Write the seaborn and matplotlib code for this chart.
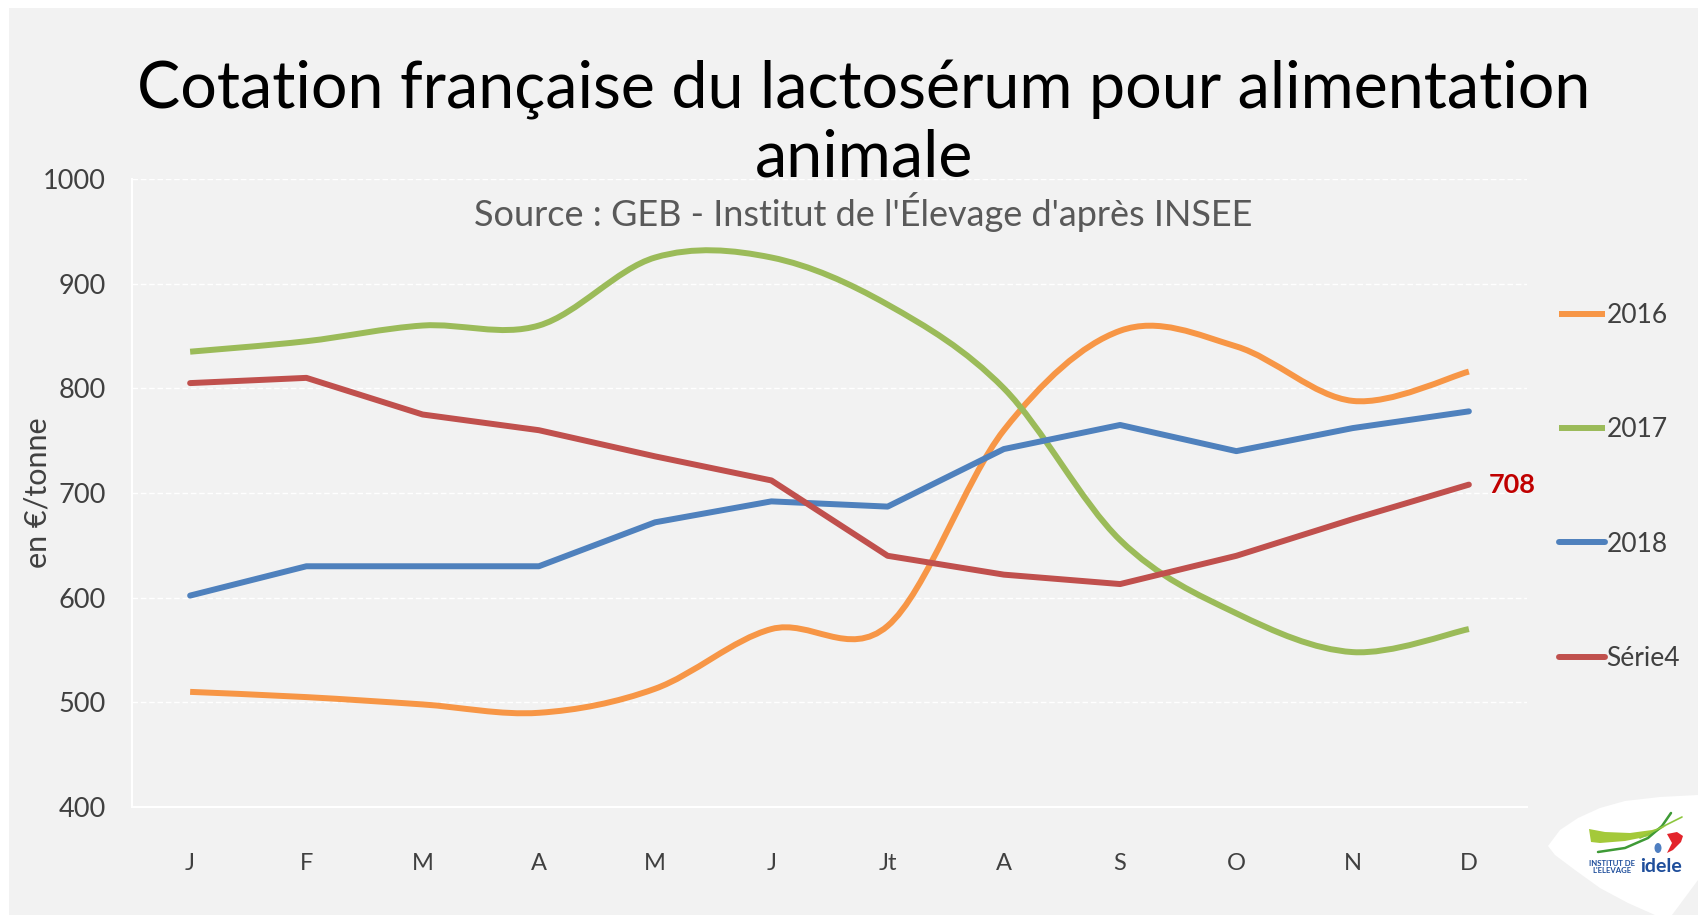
import numpy as np
import pandas as pd
import matplotlib
matplotlib.use("Agg")
import matplotlib.pyplot as plt
import seaborn as sns
from matplotlib.path import Path
from matplotlib.patches import PathPatch, Rectangle, Polygon, Ellipse
from matplotlib.lines import Line2D

# ---------------- data ----------------
months = ["J", "F", "M", "A", "M", "J", "Jt", "A", "S", "O", "N", "D"]
s2016 = [510, 505, 498, 490, 513, 570, 573, 760, 855, 840, 788, 816]
s2017 = [835, 845, 860, 860, 925, 925, 880, 800, 655, 585, 548, 570]
s2018 = [602, 630, 630, 630, 672, 692, 687, 742, 765, 740, 762, 778]
serie4 = [805, 810, 775, 760, 735, 712, 640, 622, 613, 640, 675, 708]
series_names = ["2016", "2017", "2018", "Série4"]
colors = ["#F79646", "#9BBB59", "#4F81BD", "#C0504D"]
yticks = [400, 500, 600, 700, 800, 900, 1000]
title = "Cotation française du lactosérum pour alimentation\nanimale"
subtitle = "Source : GEB - Institut de l'Élevage d'après INSEE"
ylabel = "en €/tonne"
last_label = "708"

# ---------------- style ----------------
sns.set_theme(style="white")
FONT = ["Lato", "DejaVu Sans"]
plt.rcParams["font.family"] = FONT
BG = "#F2F2F2"
TXT = "#404040"

W, H = 1698, 915


def fp(px, py):
    """figure pixel (from top-left) -> figure fraction"""
    return (px / W, 1 - py / H)


fig = plt.figure(figsize=(W / 100, H / 100), dpi=100, facecolor="white")
# background panel (white margin at top and left)
fig.patches.append(Rectangle((9 / W, 0), 1, 1 - 8 / H, transform=fig.transFigure,
                             facecolor=BG, edgecolor="none", zorder=-10))

ax = fig.add_axes([132 / W, 1 - 807 / H, 1395 / W, 628 / H])
ax.set_facecolor(BG)
ax.patch.set_alpha(0)

x = np.arange(len(months))
LW = 4.3


def smooth_path(xs, ys):
    pts = np.column_stack([xs, ys]).astype(float)
    n = len(pts)
    verts = [tuple(pts[0])]
    codes = [Path.MOVETO]
    for i in range(n - 1):
        p_prev = pts[max(i - 1, 0)]
        p0 = pts[i]
        p1 = pts[i + 1]
        p_next = pts[min(i + 2, n - 1)]
        c1 = p0 + (p1 - p_prev) / 6.0
        c2 = p1 - (p_next - p0) / 6.0
        verts += [tuple(c1), tuple(c2), tuple(p1)]
        codes += [Path.CURVE4] * 3
    return Path(verts, codes)


# smoothed series (2016, 2017)
for ys, c, z in [(s2016, colors[0], 3), (s2017, colors[1], 4)]:
    ax.add_patch(PathPatch(smooth_path(x, ys), facecolor="none", edgecolor=c,
                           lw=LW, capstyle="butt", joinstyle="round", zorder=z))

# straight series via seaborn
df = pd.DataFrame({"x": np.concatenate([x, x]),
                   "y": s2018 + serie4,
                   "s": ["2018"] * len(x) + ["Série4"] * len(x)})
sns.lineplot(data=df, x="x", y="y", hue="s", palette={"2018": colors[2], "Série4": colors[3]},
             lw=LW, ax=ax, legend=False, zorder=5, sort=False)
for ln in ax.lines:
    ln.set_solid_capstyle("round")
    ln.set_solid_joinstyle("round")
ax.lines[-1].set_zorder(6)

# axes formatting
ax.set_xlim(-0.5, len(months) - 0.5)
ax.set_ylim(400, 1000)
ax.set_yticks(yticks)
ax.set_yticklabels([str(v) for v in yticks])
ax.set_xticks(x)
ax.set_xticklabels(months)
ax.set_xticks(np.arange(-0.5, len(months), 1), minor=True)
ax.tick_params(axis="x", which="major", length=0, pad=33, labelsize=17, labelcolor=TXT)
ax.tick_params(axis="x", which="minor", length=8, width=1.5, color="white", direction="out")
ax.tick_params(axis="y", length=0, pad=19, labelsize=19.5, labelcolor=TXT)
ax.set_xlabel("")
ax.set_ylabel(ylabel, fontsize=22, color=TXT)
ax.yaxis.set_label_coords((51 - 132) / 1395, 0.5)
ax.grid(axis="y", color="white", lw=1.0, ls=(0, (4, 2)))
ax.grid(axis="x", visible=False)
for sp in ["top", "right"]:
    ax.spines[sp].set_visible(False)
ax.spines["left"].set_color("white")
ax.spines["left"].set_linewidth(1.5)
ax.spines["bottom"].set_color("white")
ax.spines["bottom"].set_linewidth(1.5)

# annotation of last value
ax.annotate(last_label, xy=(x[-1], serie4[-1]), xytext=(31, 0), textcoords="offset points",
            ha="center", va="center", fontsize=19.5, fontweight="bold", color="#C00000")

# legend
handles = [Line2D([0], [0], color=colors[0], lw=LW, solid_capstyle="butt"),
           Line2D([0], [0], color=colors[1], lw=LW, solid_capstyle="butt"),
           Line2D([0], [0], color=colors[2], lw=LW, solid_capstyle="round"),
           Line2D([0], [0], color=colors[3], lw=LW, solid_capstyle="round")]
leg = fig.legend(handles, series_names, loc="center left",
                 bbox_to_anchor=(1559 / W, 1 - 487 / H), frameon=False,
                 fontsize=19, labelcolor=TXT, handlelength=1.75, handletextpad=0.05,
                 labelspacing=3.38, borderpad=0, borderaxespad=0)

# title and subtitle
fig.text(864 / W, 1 - 124 / H, title, ha="center", va="center", fontsize=46.5,
         color="black", linespacing=1.17)
fig.text(863 / W, 1 - 212 / H, subtitle, ha="center", va="center", fontsize=26,
         color="#595959")

# logo (approximation)
logo_verts = [(1548, 846), (1560, 830), (1578, 818), (1600, 808), (1625, 801), (1660, 797),
              (1698, 795), (1698, 880), (1672, 915), (1655, 915), (1628, 903), (1600, 888),
              (1575, 870), (1555, 855)]
fig.patches.append(Polygon([fp(*v) for v in logo_verts], closed=True,
                           transform=fig.transFigure, facecolor="white", edgecolor="none",
                           zorder=1))
swoosh = [(1589, 829), (1605, 832), (1630, 833), (1652, 830), (1666, 826),
          (1650, 836), (1625, 841), (1600, 843), (1591, 842)]
fig.patches.append(Polygon([fp(*v) for v in swoosh], closed=True, transform=fig.transFigure,
                           facecolor="#A4C93A", edgecolor="none", zorder=2))
dg = [(1598, 852), (1625, 848), (1648, 838), (1662, 826), (1671, 813)]
fig.lines.append(Line2D([fp(*v)[0] for v in dg], [fp(*v)[1] for v in dg],
                        transform=fig.transFigure, color="#3E9A36", lw=1.8,
                        solid_capstyle="round", zorder=3))
lg = [(1640, 838), (1662, 827), (1682, 817)]
fig.lines.append(Line2D([fp(*v)[0] for v in lg], [fp(*v)[1] for v in lg],
                        transform=fig.transFigure, color="#8DC63F", lw=1.2, zorder=3))
fig.patches.append(Ellipse(fp(1658, 848), 7 / W, 10 / H, transform=fig.transFigure,
                           facecolor="#4F7FC1", edgecolor="none", zorder=3))
red = [(1667, 834), (1677, 832), (1683, 836), (1681, 842), (1673, 850), (1667, 853),
       (1672, 843)]
fig.patches.append(Polygon([fp(*v) for v in red], closed=True, transform=fig.transFigure,
                           facecolor="#E3242B", edgecolor="none", zorder=3))
fig.text(*fp(1612, 867), "INSTITUT DE\nL'ELEVAGE", color="#1F4E9B", fontsize=5.6,
         fontweight="bold", ha="center", va="center", linespacing=1.05, zorder=4)
fig.text(*fp(1661, 866), "idele", color="#1F4E9B", fontsize=14, fontweight="bold",
         ha="center", va="center", zorder=4)

fig.savefig("out.png", dpi=100, facecolor="white")
